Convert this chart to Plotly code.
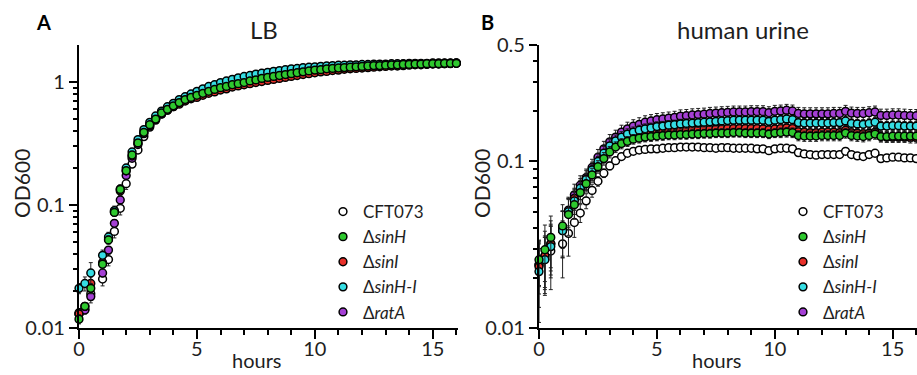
import plotly.graph_objects as go

W, H = 917, 375

HOURS = [0, 0.25, 0.5, 1.0, 1.25, 1.5, 1.75, 2.0, 2.25, 2.5, 2.75, 3.0, 3.25, 3.5, 3.75, 4.0, 4.25, 4.5, 4.75, 5.0,
         5.25, 5.5, 5.75, 6.0, 6.25, 6.5, 6.75, 7.0, 7.25, 7.5, 7.75, 8.0, 8.25, 8.5, 8.75, 9.0, 9.25, 9.5, 9.75, 10.0,
         10.25, 10.5, 10.75, 11.0, 11.25, 11.5, 11.75, 12.0, 12.25, 12.5, 12.75, 13.0, 13.25, 13.5, 13.75, 14.0,
         14.25, 14.5, 14.75, 15.0, 15.25, 15.5, 15.75, 16.0]

STRAINS = ["CFT073", "ΔsinH", "ΔsinI", "ΔsinH-I", "ΔratA"]
LEGEND_LABELS = ["CFT073", "Δ<i>sinH</i>", "Δ<i>sinI</i>", "Δ<i>sinH-I</i>", "Δ<i>ratA</i>"]

# ---------------- Panel A : LB ----------------
LB_CFT073 = [0.0133, 0.0142, 0.019, 0.025, 0.036, 0.061, 0.094, 0.149, 0.215, 0.28, 0.36, 0.43, 0.49, 0.55, 0.59, 0.63, 0.67, 0.71, 0.74, 0.77,
             0.80, 0.83, 0.86, 0.89, 0.91, 0.94, 0.96, 0.98, 1.01, 1.03, 1.06, 1.08, 1.10, 1.12, 1.14, 1.16, 1.18, 1.20, 1.22, 1.24,
             1.25, 1.27, 1.28, 1.29, 1.30, 1.31, 1.32, 1.33, 1.34, 1.35, 1.36, 1.36, 1.37, 1.38, 1.38, 1.39, 1.39, 1.40, 1.40, 1.41, 1.41, 1.41, 1.42, 1.42]
LB_SINH = [0.0118, 0.015, 0.021, 0.033, 0.052, 0.087, 0.134, 0.19, 0.255, 0.32, 0.39, 0.45, 0.50, 0.56, 0.60, 0.64, 0.68, 0.72, 0.75, 0.78,
           0.81, 0.84, 0.87, 0.90, 0.92, 0.95, 0.97, 0.99, 1.02, 1.04, 1.07, 1.09, 1.11, 1.13, 1.15, 1.17, 1.19, 1.21, 1.23, 1.25,
           1.26, 1.28, 1.29, 1.30, 1.31, 1.32, 1.33, 1.34, 1.35, 1.36, 1.36, 1.37, 1.38, 1.38, 1.39, 1.39, 1.40, 1.40, 1.41, 1.41, 1.41, 1.42, 1.42, 1.42]
LB_SINI = [0.013, 0.015, 0.023, 0.034, 0.053, 0.088, 0.13, 0.19, 0.25, 0.32, 0.39, 0.45, 0.50, 0.55, 0.59, 0.63, 0.66, 0.70, 0.73, 0.75,
           0.78, 0.81, 0.83, 0.86, 0.88, 0.91, 0.93, 0.95, 0.97, 0.99, 1.01, 1.03, 1.05, 1.07, 1.09, 1.11, 1.13, 1.15, 1.17, 1.19,
           1.21, 1.22, 1.24, 1.25, 1.27, 1.28, 1.29, 1.30, 1.31, 1.32, 1.33, 1.34, 1.35, 1.35, 1.36, 1.37, 1.38, 1.38, 1.39, 1.40, 1.40, 1.41, 1.41, 1.42]
LB_SINHI = [0.021, 0.023, 0.028, 0.039, 0.055, 0.09, 0.135, 0.20, 0.27, 0.34, 0.41, 0.47, 0.53, 0.58, 0.63, 0.67, 0.72, 0.76, 0.80, 0.84,
            0.88, 0.92, 0.95, 0.99, 1.02, 1.05, 1.08, 1.11, 1.13, 1.16, 1.18, 1.20, 1.22, 1.24, 1.26, 1.28, 1.29, 1.31, 1.32, 1.33,
            1.34, 1.35, 1.36, 1.37, 1.37, 1.38, 1.38, 1.39, 1.39, 1.40, 1.40, 1.40, 1.41, 1.41, 1.41, 1.42, 1.42, 1.42, 1.42, 1.43, 1.43, 1.43, 1.43, 1.43]
LB_RATA = [0.013, 0.014, 0.018, 0.028, 0.043, 0.071, 0.11, 0.174, 0.24, 0.31, 0.38, 0.44, 0.50, 0.55, 0.60, 0.64, 0.68, 0.72, 0.76, 0.80,
           0.83, 0.86, 0.89, 0.92, 0.95, 0.98, 1.00, 1.03, 1.05, 1.08, 1.10, 1.12, 1.14, 1.16, 1.18, 1.20, 1.22, 1.24, 1.26, 1.27,
           1.29, 1.30, 1.31, 1.32, 1.33, 1.34, 1.35, 1.36, 1.36, 1.37, 1.38, 1.38, 1.39, 1.39, 1.40, 1.40, 1.41, 1.41, 1.41, 1.42, 1.42, 1.42, 1.42, 1.43]

LB_CFT073_SD = [0.001, 0.001, 0.002, 0.003, 0.004, 0.007, 0.011, 0.015, 0.012, 0.01, 0.01, 0.01, 0.01, 0.01, 0.01, 0.01, 0.01, 0.01, 0.01, 0.01,
                0.01, 0.01, 0.01, 0.01, 0.01, 0.01, 0.01, 0.01, 0.01, 0.01, 0.01, 0.01, 0.01, 0.01, 0.01, 0.01, 0.01, 0.01, 0.01, 0.01,
                0.01, 0.01, 0.01, 0.01, 0.01, 0.01, 0.01, 0.01, 0.01, 0.01, 0.01, 0.01, 0.01, 0.01, 0.01, 0.01, 0.01, 0.01, 0.01, 0.01, 0.01, 0.01, 0.01, 0.01]
LB_SINH_SD = [0.001, 0.001, 0.002, 0.003, 0.004, 0.006, 0.010, 0.012, 0.01, 0.01, 0.01, 0.01, 0.01, 0.01, 0.01, 0.01, 0.01, 0.01, 0.01, 0.01,
              0.01, 0.01, 0.01, 0.01, 0.01, 0.01, 0.01, 0.01, 0.01, 0.01, 0.01, 0.01, 0.01, 0.01, 0.01, 0.01, 0.01, 0.01, 0.01, 0.01,
              0.01, 0.01, 0.01, 0.01, 0.01, 0.01, 0.01, 0.01, 0.01, 0.01, 0.01, 0.01, 0.01, 0.01, 0.01, 0.01, 0.01, 0.01, 0.01, 0.01, 0.01, 0.01, 0.01, 0.01]
LB_SINI_SD = [0.001, 0.001, 0.003, 0.003, 0.004, 0.006, 0.010, 0.012, 0.01, 0.01, 0.01, 0.01, 0.01, 0.01, 0.01, 0.01, 0.01, 0.01, 0.01, 0.01,
              0.01, 0.01, 0.01, 0.01, 0.01, 0.01, 0.01, 0.01, 0.01, 0.01, 0.01, 0.01, 0.01, 0.01, 0.01, 0.01, 0.01, 0.01, 0.01, 0.01,
              0.01, 0.01, 0.01, 0.01, 0.01, 0.01, 0.01, 0.01, 0.01, 0.01, 0.01, 0.01, 0.01, 0.01, 0.01, 0.01, 0.01, 0.01, 0.01, 0.01, 0.01, 0.01, 0.01, 0.01]
LB_SINHI_SD = [0.002, 0.003, 0.006, 0.004, 0.005, 0.008, 0.010, 0.012, 0.01, 0.01, 0.01, 0.01, 0.01, 0.01, 0.01, 0.01, 0.01, 0.01, 0.01, 0.01,
               0.01, 0.01, 0.01, 0.01, 0.01, 0.01, 0.01, 0.01, 0.01, 0.01, 0.01, 0.01, 0.01, 0.01, 0.01, 0.01, 0.01, 0.01, 0.01, 0.01,
               0.01, 0.01, 0.01, 0.01, 0.01, 0.01, 0.01, 0.01, 0.01, 0.01, 0.01, 0.01, 0.01, 0.01, 0.01, 0.01, 0.01, 0.01, 0.01, 0.01, 0.01, 0.01, 0.01, 0.01]
LB_RATA_SD = [0.001, 0.001, 0.002, 0.002, 0.003, 0.005, 0.008, 0.010, 0.01, 0.01, 0.01, 0.01, 0.01, 0.01, 0.01, 0.01, 0.01, 0.01, 0.01, 0.01,
              0.01, 0.01, 0.01, 0.01, 0.01, 0.01, 0.01, 0.01, 0.01, 0.01, 0.01, 0.01, 0.01, 0.01, 0.01, 0.01, 0.01, 0.01, 0.01, 0.01,
              0.01, 0.01, 0.01, 0.01, 0.01, 0.01, 0.01, 0.01, 0.01, 0.01, 0.01, 0.01, 0.01, 0.01, 0.01, 0.01, 0.01, 0.01, 0.01, 0.01, 0.01, 0.01, 0.01, 0.01]

# ---------------- Panel B : human urine ----------------
URINE_CFT073 = [0.024, 0.026, 0.029, 0.032, 0.037, 0.043, 0.049, 0.058, 0.067, 0.076, 0.085, 0.094, 0.101, 0.107, 0.112, 0.115, 0.117, 0.118, 0.119, 0.119,
                0.120, 0.121, 0.121, 0.122, 0.122, 0.122, 0.122, 0.121, 0.121, 0.120, 0.121, 0.121, 0.120, 0.120, 0.120, 0.120, 0.119, 0.119, 0.116, 0.119,
                0.120, 0.120, 0.119, 0.113, 0.111, 0.110, 0.109, 0.110, 0.110, 0.110, 0.110, 0.115, 0.110, 0.108, 0.107, 0.110, 0.112, 0.104, 0.105, 0.106, 0.106, 0.105, 0.105, 0.104]
URINE_SINH = [0.0257, 0.0295, 0.035, 0.041, 0.048, 0.055, 0.065, 0.0735, 0.083, 0.093, 0.104, 0.114, 0.122, 0.128, 0.132, 0.136, 0.138, 0.140, 0.141, 0.142,
              0.143, 0.144, 0.144, 0.145, 0.145, 0.146, 0.146, 0.147, 0.147, 0.148, 0.148, 0.148, 0.149, 0.149, 0.148, 0.148, 0.148, 0.148, 0.146, 0.148,
              0.149, 0.150, 0.149, 0.143, 0.142, 0.142, 0.142, 0.143, 0.143, 0.143, 0.143, 0.148, 0.143, 0.142, 0.141, 0.143, 0.146, 0.141, 0.141, 0.142, 0.142, 0.142, 0.142, 0.142]
URINE_SINI = [0.0233, 0.0271, 0.032, 0.0384, 0.049, 0.060, 0.068, 0.076, 0.086, 0.097, 0.108, 0.118, 0.126, 0.133, 0.138, 0.142, 0.145, 0.147, 0.149, 0.150,
              0.151, 0.152, 0.153, 0.154, 0.154, 0.155, 0.155, 0.156, 0.156, 0.157, 0.157, 0.158, 0.158, 0.158, 0.158, 0.158, 0.158, 0.157, 0.155, 0.157,
              0.158, 0.159, 0.158, 0.151, 0.150, 0.149, 0.149, 0.150, 0.150, 0.150, 0.149, 0.154, 0.149, 0.148, 0.147, 0.148, 0.150, 0.141, 0.140, 0.140, 0.140, 0.140, 0.139, 0.139]
URINE_SINHI = [0.0218, 0.0257, 0.0308, 0.0384, 0.050, 0.058, 0.069, 0.078, 0.089, 0.100, 0.112, 0.124, 0.133, 0.140, 0.146, 0.150, 0.154, 0.157, 0.159, 0.162,
               0.163, 0.165, 0.166, 0.168, 0.169, 0.170, 0.171, 0.172, 0.173, 0.174, 0.175, 0.176, 0.177, 0.177, 0.177, 0.177, 0.177, 0.177, 0.174, 0.177,
               0.178, 0.180, 0.178, 0.171, 0.170, 0.170, 0.170, 0.170, 0.170, 0.171, 0.171, 0.175, 0.169, 0.168, 0.167, 0.169, 0.172, 0.163, 0.163, 0.164, 0.164, 0.163, 0.163, 0.163]
URINE_RATA = [0.024, 0.027, 0.032, 0.040, 0.051, 0.063, 0.072, 0.080, 0.092, 0.106, 0.119, 0.131, 0.140, 0.150, 0.157, 0.163, 0.167, 0.172, 0.175, 0.178,
              0.180, 0.182, 0.184, 0.187, 0.188, 0.190, 0.191, 0.192, 0.194, 0.195, 0.196, 0.197, 0.198, 0.198, 0.198, 0.199, 0.199, 0.199, 0.196, 0.200,
              0.201, 0.203, 0.201, 0.194, 0.193, 0.193, 0.193, 0.193, 0.193, 0.194, 0.194, 0.200, 0.195, 0.194, 0.194, 0.196, 0.198, 0.189, 0.189, 0.190, 0.190, 0.189, 0.188, 0.188]

URINE_CFT073_SD = [0.006, 0.009, 0.012, 0.012, 0.010, 0.008, 0.006, 0.006, 0.006, 0.005, 0.005, 0.005, 0.005, 0.004, 0.004, 0.004, 0.004, 0.004, 0.004, 0.004,
                   0.004, 0.004, 0.004, 0.004, 0.004, 0.004, 0.004, 0.004, 0.004, 0.004, 0.004, 0.004, 0.004, 0.004, 0.004, 0.004, 0.004, 0.004, 0.004, 0.004,
                   0.004, 0.004, 0.004, 0.004, 0.004, 0.004, 0.004, 0.004, 0.004, 0.004, 0.004, 0.004, 0.004, 0.004, 0.004, 0.004, 0.004, 0.004, 0.004, 0.004, 0.004, 0.004, 0.004, 0.004]
URINE_SINH_SD = [0.008, 0.012, 0.012, 0.014, 0.012, 0.010, 0.009, 0.008, 0.008, 0.008, 0.009, 0.009, 0.009, 0.009, 0.009, 0.009, 0.009, 0.009, 0.009, 0.009,
                 0.009, 0.009, 0.009, 0.009, 0.009, 0.009, 0.009, 0.009, 0.009, 0.009, 0.009, 0.009, 0.009, 0.009, 0.009, 0.009, 0.009, 0.009, 0.009, 0.009,
                 0.010, 0.010, 0.010, 0.010, 0.010, 0.010, 0.010, 0.010, 0.010, 0.010, 0.010, 0.010, 0.010, 0.010, 0.010, 0.010, 0.010, 0.010, 0.010, 0.010, 0.010, 0.010, 0.010, 0.010]
URINE_SINI_SD = [0.010, 0.011, 0.012, 0.012, 0.010, 0.009, 0.009, 0.009, 0.009, 0.010, 0.010, 0.010, 0.010, 0.010, 0.010, 0.010, 0.010, 0.010, 0.010, 0.010,
                 0.010, 0.010, 0.010, 0.010, 0.010, 0.010, 0.010, 0.010, 0.010, 0.010, 0.010, 0.010, 0.010, 0.010, 0.010, 0.010, 0.010, 0.010, 0.010, 0.010,
                 0.010, 0.010, 0.010, 0.010, 0.010, 0.010, 0.010, 0.010, 0.010, 0.010, 0.010, 0.010, 0.010, 0.010, 0.010, 0.010, 0.010, 0.010, 0.010, 0.010, 0.010, 0.010, 0.010, 0.010]
URINE_SINHI_SD = [0.011, 0.010, 0.010, 0.012, 0.010, 0.010, 0.010, 0.010, 0.010, 0.011, 0.011, 0.011, 0.011, 0.011, 0.011, 0.011, 0.011, 0.011, 0.011, 0.011,
                  0.011, 0.011, 0.011, 0.011, 0.011, 0.011, 0.011, 0.011, 0.011, 0.011, 0.011, 0.011, 0.011, 0.011, 0.011, 0.011, 0.011, 0.011, 0.011, 0.011,
                  0.011, 0.011, 0.011, 0.011, 0.011, 0.011, 0.011, 0.011, 0.011, 0.011, 0.011, 0.011, 0.011, 0.011, 0.011, 0.011, 0.011, 0.011, 0.011, 0.011, 0.011, 0.011, 0.011, 0.011]
URINE_RATA_SD = [0.008, 0.008, 0.010, 0.010, 0.010, 0.010, 0.010, 0.010, 0.011, 0.012, 0.013, 0.014, 0.014, 0.015, 0.015, 0.015, 0.016, 0.016, 0.016, 0.016,
                 0.016, 0.016, 0.016, 0.017, 0.017, 0.017, 0.017, 0.017, 0.017, 0.017, 0.017, 0.017, 0.017, 0.017, 0.017, 0.017, 0.017, 0.017, 0.017, 0.017,
                 0.017, 0.017, 0.017, 0.017, 0.017, 0.017, 0.017, 0.017, 0.017, 0.017, 0.017, 0.017, 0.017, 0.017, 0.017, 0.017, 0.017, 0.017, 0.017, 0.017, 0.017, 0.017, 0.017, 0.017]

X_TICKS = [0, 5, 10, 15]
Y_TICKS_A = [0.01, 0.1, 1]
Y_TICKTEXT_A = ["0.01", "0.1", "1"]
Y_TICKS_B = [0.01, 0.1, 0.5]
Y_TICKTEXT_B = ["0.01", "0.1", "0.5"]

FILL = {"CFT073": "#ffffff", "ΔsinH": "#2ec82e", "ΔsinI": "#e8302a", "ΔsinH-I": "#35dde3", "ΔratA": "#a43fd4"}

FONT = "Lato, 'Open Sans', sans-serif"
TXT = "#1e1e1e"

panelA = {"CFT073": (LB_CFT073, LB_CFT073_SD), "ΔsinH": (LB_SINH, LB_SINH_SD), "ΔsinI": (LB_SINI, LB_SINI_SD),
          "ΔsinH-I": (LB_SINHI, LB_SINHI_SD), "ΔratA": (LB_RATA, LB_RATA_SD)}
panelB = {"CFT073": (URINE_CFT073, URINE_CFT073_SD), "ΔsinH": (URINE_SINH, URINE_SINH_SD), "ΔsinI": (URINE_SINI, URINE_SINI_SD),
          "ΔsinH-I": (URINE_SINHI, URINE_SINHI_SD), "ΔratA": (URINE_RATA, URINE_RATA_SD)}

for d in (panelA, panelB):
    for k, (v, e) in d.items():
        assert len(v) == len(HOURS) and len(e) == len(HOURS), k

DRAW_ORDER = ["CFT073", "ΔratA", "ΔsinI", "ΔsinH-I", "ΔsinH"]

fig = go.Figure()
for panel, xa, ya, leg in ((panelA, "x", "y", "legend"), (panelB, "x2", "y2", "legend2")):
    for name in DRAW_ORDER:
        vals, sd = panel[name]
        idx = STRAINS.index(name)
        fig.add_trace(go.Scatter(
            x=HOURS, y=vals, mode="markers", name=LEGEND_LABELS[idx],
            xaxis=xa, yaxis=ya, legend=leg, legendrank=idx + 1,
            cliponaxis=False,
            marker=dict(symbol="circle", size=7.8, color=FILL[name], line=dict(color="black", width=1.5)),
            error_y=dict(type="data", array=sd, visible=True, color="#222222", thickness=1, width=2),
        ))

def px(x):
    return x / W

def py(y):
    return 1 - y / H

ydom = [py(328), py(45)]
tickfont = dict(family=FONT, size=20, color=TXT)
common_x = dict(tickmode="array", tickvals=X_TICKS, ticks="outside", ticklen=9, tickwidth=2, tickcolor="black",
                showline=True, linecolor="black", linewidth=2.2, showgrid=False, zeroline=False, tickfont=tickfont,
                automargin=False, ticklabelstandoff=-7,
                minor=dict(dtick=1, ticks="outside", ticklen=5, tickwidth=2, tickcolor="black", showgrid=False))
common_y = dict(type="log", tickmode="array", ticks="outside", ticklen=8, tickwidth=2, tickcolor="black",
                showline=True, linecolor="black", linewidth=2.2, showgrid=False, zeroline=False, tickfont=tickfont,
                automargin=False)
fig.update_layout(
    template="none",
    width=W, height=H, autosize=False,
    margin=dict(l=0, r=0, t=0, b=0, pad=0),
    paper_bgcolor="white", plot_bgcolor="white",
    showlegend=True,
    xaxis=dict(domain=[px(79), px(458)], range=[0, 16.07], anchor="y", **common_x),
    xaxis2=dict(domain=[px(539), 1.0], range=[0, 16.03], anchor="y2", **common_x),
    yaxis=dict(domain=ydom, range=[-2, 0.301], anchor="x",
               tickvals=Y_TICKS_A, ticktext=Y_TICKTEXT_A, **common_y,
               minor=dict(tickmode="array", tickvals=[0.02, 0.03, 0.04, 0.05, 0.06, 0.07, 0.08, 0.09,
                                                       0.2, 0.3, 0.4, 0.5, 0.6, 0.7, 0.8, 0.9],
                          ticks="outside", ticklen=4, tickwidth=1.6, tickcolor="black", showgrid=False)),
    yaxis2=dict(domain=ydom, range=[-2, -0.301], anchor="x2",
                tickvals=Y_TICKS_B, ticktext=Y_TICKTEXT_B, **common_y,
                minor=dict(tickmode="array", tickvals=[0.02, 0.03, 0.04, 0.05, 0.06, 0.07, 0.08, 0.09, 0.2, 0.3, 0.4],
                           ticks="outside", ticklen=4, tickwidth=1.6, tickcolor="black", showgrid=False)),
    legend=dict(x=px(323), y=py(194), xanchor="left", yanchor="top", bgcolor="rgba(0,0,0,0)",
                font=dict(family=FONT, size=17, color=TXT), itemsizing="trace", traceorder="normal",
                tracegroupgap=0, borderwidth=0),
    legend2=dict(x=px(783), y=py(194), xanchor="left", yanchor="top", bgcolor="rgba(0,0,0,0)",
                 font=dict(family=FONT, size=17, color=TXT), itemsizing="trace", traceorder="normal",
                 tracegroupgap=0, borderwidth=0),
)

ann = [
    ("<b>A</b>", 43, 22, 20, 0, "#000000"),
    ("<b>B</b>", 487, 22, 20, 0, "#000000"),
    ("LB", 264, 30, 24, 0, TXT),
    ("human urine", 743, 30, 24, 0, TXT),
    ("OD600", 22, 184, 21, -90, TXT),
    ("OD600", 482, 184, 21, -90, TXT),
    ("hours", 257, 360, 20, 0, TXT),
    ("hours", 717, 360, 20, 0, TXT),
]
for text, x, y, size, ang, col in ann:
    fig.add_annotation(text=text, x=px(x), y=py(y), xref="paper", yref="paper", showarrow=False,
                       xanchor="center", yanchor="middle", textangle=ang,
                       font=dict(family=FONT, size=size, color=col))

fig.write_html("out.html", config={"displayModeBar": False},
               post_script="document.body.style.margin='0px';document.body.style.overflow='hidden';")
